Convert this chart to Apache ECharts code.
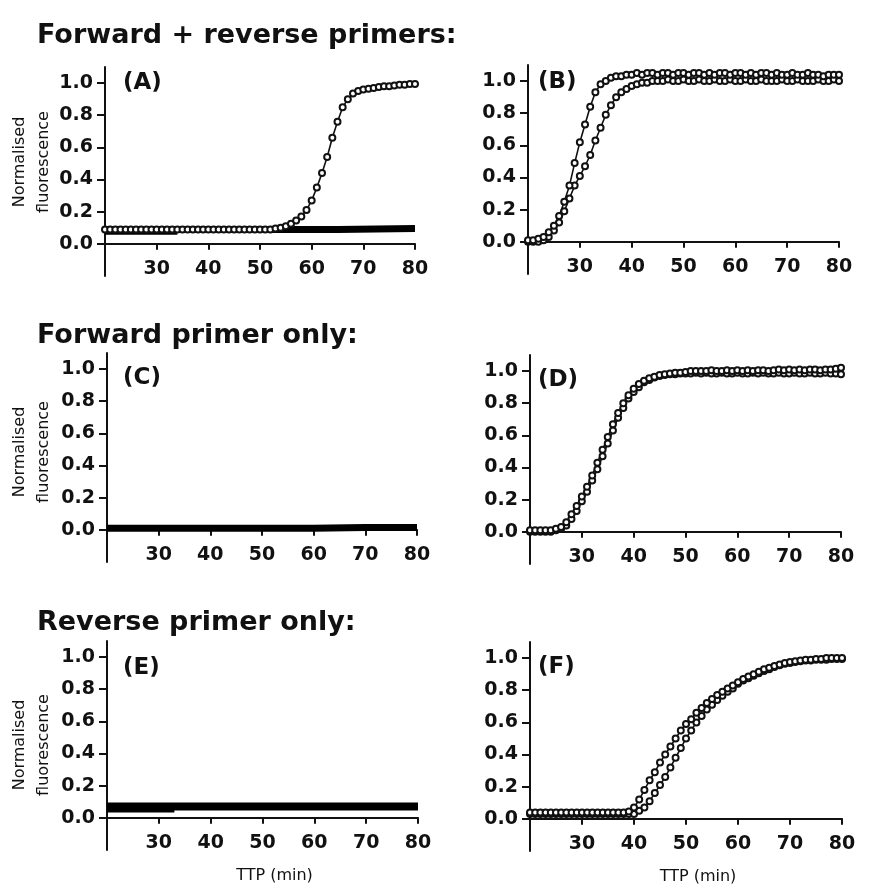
<!DOCTYPE html>
<html>
<head>
<meta charset="utf-8">
<title>Normalised fluorescence vs TTP</title>
<script src="https://cdn.jsdelivr.net/npm/echarts@6/dist/echarts.min.js"></script>
<style>
  html, body { margin: 0; padding: 0; background: #fff; }
  #main { width: 869px; height: 893px; }
</style>
</head>
<body>
<div id="main"></div>
<script>
// time axis (min), one reading per minute
var minutes = [20,21,22,23,24,25,26,27,28,29,30,31,32,33,34,35,36,37,38,39,
  40,41,42,43,44,45,46,47,48,49,50,51,52,53,54,55,56,57,58,59,
  60,61,62,63,64,65,66,67,68,69,70,71,72,73,74,75,76,77,78,79,80];

// (A) forward + reverse, positive curve
var aRise = [0.09,0.09,0.09,0.09,0.09,0.09,0.09,0.09,0.09,0.09,0.09,0.09,0.09,0.09,0.09,0.09,0.09,0.09,0.09,0.09,
  0.09,0.09,0.09,0.09,0.09,0.09,0.09,0.09,0.09,0.09,0.09,0.09,0.09,
  0.095,0.10,0.11,0.125,0.145,0.17,0.21,0.27,0.35,0.44,0.54,0.66,0.76,0.85,0.90,0.935,0.95,
  0.96,0.965,0.97,0.975,0.98,0.98,0.985,0.99,0.99,0.995,0.995];
// (A) negative controls
var aNeg1 = [[20,0.09],[34,0.09],[50,0.09],[65,0.09],[80,0.095]];
var aNeg2 = [[20,0.075],[34,0.075]];

// (B) two positive curves
var bFast = [0.01,0.01,0.02,0.03,0.06,0.10,0.16,0.25,0.35,0.49,0.62,0.73,0.84,0.93,0.98,1.0,1.02,1.03,1.03,1.04,
  1.04,1.05,1.04,1.05,1.05,1.04,1.05,1.05,1.04,1.05,1.05,1.04,1.05,1.05,1.04,1.05,1.04,1.05,1.05,1.04,
  1.05,1.05,1.04,1.05,1.04,1.05,1.05,1.04,1.05,1.04,1.04,1.05,1.04,1.04,1.05,1.04,1.04,1.03,1.04,1.04,1.04];
var bSlow = [0,0,0,0.01,0.03,0.07,0.12,0.19,0.27,0.35,0.41,0.47,0.54,0.63,0.71,0.79,0.85,0.90,0.93,0.95,
  0.97,0.98,0.99,0.99,1.0,1.0,1.0,1.01,1.0,1.0,1.01,1.0,1.0,1.01,1.0,1.0,1.01,1.0,1.0,1.01,
  1.0,1.0,1.01,1.0,1.0,1.01,1.0,1.0,1.0,1.01,1.0,1.0,1.01,1.0,1.0,1.0,1.01,1.0,1.0,1.01,1.0];

// (C) forward primer only, negatives
var cNeg = [[20,0.01],[40,0.01],[60,0.01],[70,0.015],[80,0.015]];

// (D) forward primer only, positives
var dA = [0.01,0.01,0.01,0.01,0.01,0.02,0.03,0.06,0.11,0.16,0.22,0.28,0.35,0.43,0.51,0.59,0.67,0.74,0.80,0.85,
  0.89,0.92,0.94,0.955,0.965,0.975,0.98,0.985,0.99,0.99,0.995,1.0,1.0,1.0,1.0,1.005,1.0,1.0,1.005,1.0,
  1.005,1.0,1.005,1.0,1.005,1.005,1.0,1.005,1.01,1.005,1.01,1.005,1.01,1.005,1.01,1.01,1.005,1.01,1.01,1.015,1.02];
var dB = [0,0,0,0,0,0.01,0.02,0.04,0.08,0.13,0.19,0.25,0.32,0.39,0.47,0.55,0.63,0.71,0.77,0.83,
  0.87,0.90,0.93,0.945,0.96,0.97,0.975,0.98,0.98,0.985,0.985,0.985,0.99,0.985,0.99,0.985,0.985,0.99,0.985,0.985,
  0.99,0.985,0.985,0.99,0.985,0.99,0.985,0.985,0.99,0.985,0.985,0.99,0.985,0.985,0.99,0.985,0.985,0.99,0.985,0.985,0.98];

// (E) reverse primer only, negatives
var eNeg1 = [[20,0.07],[50,0.07],[80,0.07]];
var eNeg2 = [[20,0.045],[33,0.045]];

// (F) reverse primer only, positives
var fA = [0.04,0.04,0.04,0.04,0.04,0.04,0.04,0.04,0.04,0.04,0.04,0.04,0.04,0.04,0.04,0.04,0.04,0.04,0.04,
  0.045,0.07,0.12,0.18,0.24,0.29,0.35,0.40,0.45,0.50,0.55,0.59,0.62,0.66,0.69,0.72,0.745,0.77,0.79,0.81,0.83,
  0.85,0.87,0.885,0.90,0.915,0.93,0.94,0.95,0.96,0.97,0.975,0.98,0.985,0.99,0.99,0.995,0.995,1.0,1.0,1.0,1.0];
var fB = [0.03,0.03,0.03,0.03,0.03,0.03,0.03,0.03,0.03,0.03,0.03,0.03,0.03,0.03,0.03,0.03,0.03,0.03,0.03,
  0.03,0.03,0.05,0.07,0.11,0.16,0.21,0.26,0.32,0.38,0.44,0.50,0.55,0.60,0.64,0.68,0.71,0.74,0.765,0.79,0.81,
  0.84,0.86,0.875,0.89,0.905,0.92,0.93,0.945,0.955,0.965,0.97,0.975,0.98,0.985,0.985,0.99,0.99,0.99,0.995,0.995,0.995];

// tick labels and texts
var yTicks = [0, 0.2, 0.4, 0.6, 0.8, 1.0];
var xTicks = [30, 40, 50, 60, 70, 80];
var panelNames = ['(A)', '(B)', '(C)', '(D)', '(E)', '(F)'];
var rowTitles = ['Forward + reverse primers:', 'Forward primer only:', 'Reverse primer only:'];

var FONT = '"DejaVu Sans", "Liberation Sans", sans-serif';
var INK = '#111';

// panel boxes (y from -0.2 to 1.1)
var boxes = [
  { left: 105, top: 67, width: 310, height: 209 },
  { left: 528, top: 65, width: 311, height: 209 },
  { left: 107, top: 353, width: 310, height: 209 },
  { left: 530, top: 355, width: 311, height: 209 },
  { left: 107, top: 641, width: 311, height: 209 },
  { left: 530, top: 642, width: 312, height: 209 }
];

function toPairs(ys) {
  return minutes.map(function (m, i) { return [m, ys[i]]; });
}

function dotted(idx, ys) {
  return {
    type: 'line', xAxisIndex: idx, yAxisIndex: idx,
    data: toPairs(ys),
    symbol: 'emptyCircle', symbolSize: 6, showAllSymbol: true,
    lineStyle: { color: INK, width: 1.6 },
    itemStyle: { color: INK, borderWidth: 1.5 },
    z: 3
  };
}

function band(idx, pts, w) {
  return {
    type: 'line', xAxisIndex: idx, yAxisIndex: idx,
    data: pts, symbol: 'none',
    lineStyle: { color: '#000', width: w },
    z: 2
  };
}

var xAxes = boxes.map(function (b, i) {
  var ax = {
    type: 'value', gridIndex: i, min: 20, max: 80, interval: 10,
    axisLine: { show: true, onZero: true, lineStyle: { color: INK, width: 2 } },
    axisTick: { show: true, length: 6, customValues: xTicks, lineStyle: { color: INK, width: 2 } },
    axisLabel: { customValues: xTicks, margin: -16, color: INK, fontFamily: FONT, fontWeight: 'bold', fontSize: 19 },
    splitLine: { show: false }
  };
  if (i >= 4) {
    ax.name = 'TTP (min)';
    ax.nameLocation = 'middle';
    ax.nameGap = 18;
    ax.nameTextStyle = { color: INK, fontFamily: FONT, fontSize: 16, padding: [0, 0, 0, 24] };
  }
  return ax;
});

var yAxes = boxes.map(function (b, i) {
  return {
    type: 'value', gridIndex: i, min: -0.2, max: 1.1, interval: 0.2,
    axisLine: { show: true, lineStyle: { color: INK, width: 2 } },
    axisTick: { show: true, length: 8, customValues: yTicks, lineStyle: { color: INK, width: 2 } },
    axisLabel: {
      customValues: yTicks, margin: 12, color: INK, fontFamily: FONT, fontWeight: 'bold', fontSize: 19,
      formatter: function (v) { return v.toFixed(1); }
    },
    splitLine: { show: false }
  };
});

// panel letters and y-axis titles
var labelPos = [[123, 83], [538, 82], [123, 378], [538, 380], [123, 668], [538, 667]];
var yNamePos = [[32, 162], [32, 452], [32, 745]];
var graphics = [];
panelNames.forEach(function (t, i) {
  graphics.push({
    type: 'text', x: labelPos[i][0], y: labelPos[i][1],
    style: { text: t, font: 'bold 23px ' + FONT, fill: INK, verticalAlign: 'middle' }
  });
});
yNamePos.forEach(function (p) {
  graphics.push({
    type: 'text', x: p[0], y: p[1], rotation: Math.PI / 2,
    style: {
      text: 'Normalised\nfluorescence', font: '16px ' + FONT, fill: INK,
      align: 'center', verticalAlign: 'middle', lineHeight: 24
    }
  });
});

var titleTops = [22, 322, 609];

var chartDom = document.getElementById('main');
var myChart = echarts.init(chartDom);
var option = {
  backgroundColor: '#fff',
  animation: false,
  title: rowTitles.map(function (t, i) {
    return {
      text: t, left: 37, top: titleTops[i], padding: 0,
      textStyle: { color: INK, fontFamily: FONT, fontWeight: 'bold', fontSize: 27 }
    };
  }),
  grid: boxes.map(function (b) {
    return Object.assign({ outerBoundsMode: 'none', containLabel: false }, b);
  }),
  xAxis: xAxes,
  yAxis: yAxes,
  graphic: graphics,
  series: [
    band(0, aNeg1, 7), band(0, aNeg2, 6), dotted(0, aRise),
    dotted(1, bSlow), dotted(1, bFast),
    band(2, cNeg, 7),
    dotted(3, dB), dotted(3, dA),
    band(4, eNeg1, 8), band(4, eNeg2, 4),
    dotted(5, fB), dotted(5, fA)
  ]
};

option && myChart.setOption(option);
</script>
</body>
</html>
